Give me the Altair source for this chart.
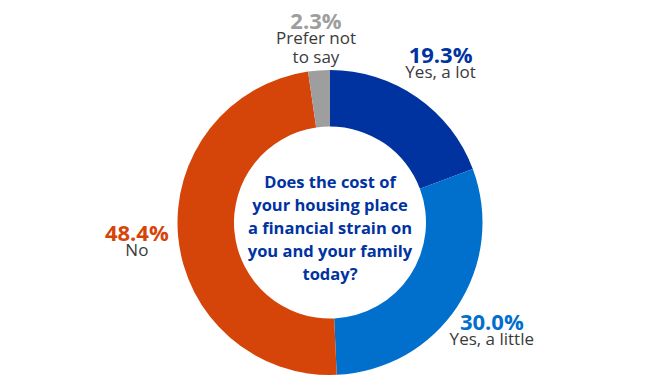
import altair as alt
import pandas as pd

categories = ["Yes, a lot", "Yes, a little", "No", "Prefer not to say"]
label_lines = ["Yes, a lot", "Yes, a little", "No", "Prefer not\nto say"]
values = [19.3, 30.0, 48.4, 2.3]
pct_labels = ["19.3%", "30.0%", "48.4%", "2.3%"]
colors = ["#0033A0", "#0070CC", "#D5450A", "#9E9E9E"]
question = "Does the cost of\nyour housing place\na financial strain on\nyou and your family\ntoday?"

df = pd.DataFrame({
    "category": categories,
    "label": label_lines,
    "value": values,
    "pct": pct_labels,
    "idx": list(range(len(categories))),
})

FONT = "Open Sans"

color_scale = alt.Scale(domain=categories, range=colors)

base = alt.Chart(df).encode(
    theta=alt.Theta("value:Q", stack=True),
    order=alt.Order("idx:Q"),
)

arcs = base.mark_arc(innerRadius=96, outerRadius=152.5, stroke=None).encode(
    color=alt.Color("category:N", scale=color_scale, legend=None, sort=None)
)

pct_text = base.mark_text(
    radius=194, font=FONT, fontSize=22, fontWeight="bold",
    baseline="alphabetic", align="center"
).encode(
    text="pct:N",
    color=alt.Color("category:N", scale=color_scale, legend=None, sort=None),
)

cat_text = base.mark_text(
    radius=194, font=FONT, fontSize=17, baseline="top", align="center",
    lineBreak="\n", lineHeight=19, color="#3A3A3A", dy=2
).encode(text="label:N")

center = alt.Chart(pd.DataFrame({"q": [question]})).mark_text(
    font=FONT, fontSize=16.5, fontWeight="bold", color="#0033A0",
    lineBreak="\n", lineHeight=23, baseline="middle", align="center", dy=-40
).encode(text="q:N")

chart = alt.layer(arcs, pct_text, cat_text, center).properties(
    width=644, height=309,
    autosize=alt.AutoSizeParams(type="none"),
    padding={"top": 60, "left": 0, "right": 0, "bottom": 0},
).configure_view(stroke=None)

chart.save("out.html", embed_options={"renderer": "svg", "actions": False})
